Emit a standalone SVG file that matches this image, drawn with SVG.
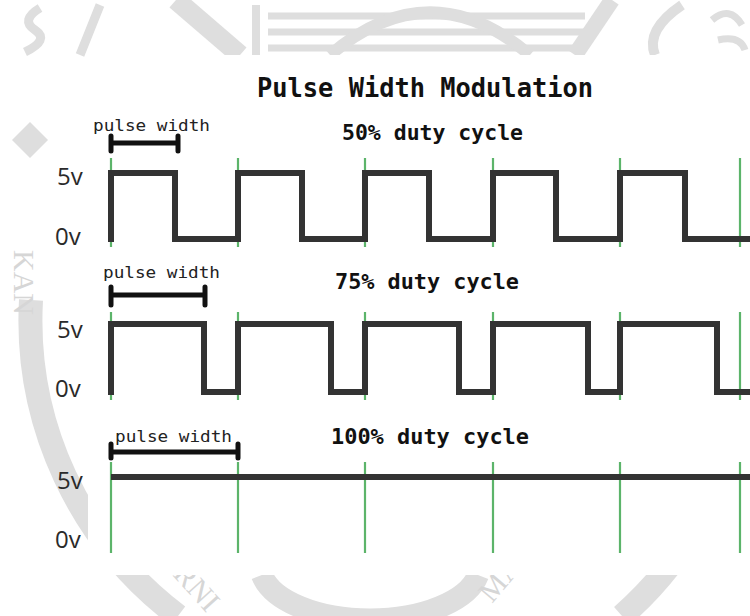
<svg xmlns="http://www.w3.org/2000/svg" width="750" height="616" viewBox="0 0 750 616">
<style>
.wm{fill:none;stroke:#dedede;stroke-linecap:butt}
.wmt{fill:#d6d6d6;font-family:"Liberation Serif",serif;font-size:30px}
.title{font-family:"DejaVu Sans Mono",monospace;font-weight:bold;fill:#111}
.duty{font-family:"DejaVu Sans Mono",monospace;font-weight:bold;font-size:22px;fill:#111}
.pw{font-family:"DejaVu Sans Mono",monospace;font-size:16px;fill:#222}
.volt{font-family:"Open Sans",sans-serif;font-size:24px;fill:#2a2a2a}
.grid{stroke:#5cb46a;stroke-width:2.2}
.wave{fill:none;stroke:#333;stroke-width:6;stroke-linejoin:miter;stroke-linecap:butt}
.bar{fill:none;stroke:#111;stroke-width:5;stroke-linecap:round}
</style>
<rect x="0" y="0" width="750" height="616" fill="#fff"/>
<g id="watermark">
  <path class="wm" d="M31,300 A370,370 0 0 0 178,616" stroke-width="24"/>
  <path class="wm" d="M700,520 A370,370 0 0 1 622,616" stroke-width="24"/>
  <path class="wm" d="M262,575 A110,55 0 0 0 478,575" stroke-width="22"/>
  <path class="wm" d="M176,0 L240,55" stroke-width="20"/>
  <path class="wm" d="M256,5 V55" stroke-width="8"/>
  <path class="wm" d="M268,16 H585 M268,32 H585 M268,48 H585" stroke-width="7"/>
  <path class="wm" d="M330,55 Q430,-30 530,55" stroke-width="12"/>
  <path class="wm" d="M612,0 L575,55" stroke-width="16"/>
  <path class="wm" d="M682,5 Q645,30 655,55" stroke-width="10"/>
  <path class="wm" d="M40,8 Q20,20 35,30 Q50,40 25,52" stroke-width="9"/>
  <path class="wm" d="M100,5 L80,55" stroke-width="9"/>
  <path class="wm" d="M712,20 Q730,5 742,25 M718,40 Q740,35 745,50" stroke-width="7"/>
  <polygon points="30,122 48,140 30,158 12,140" fill="#dedede"/>
  <text class="wmt" transform="translate(14,250) rotate(90)">KAN</text>
  <text class="wmt" transform="translate(172,575) rotate(48)" font-size="26">RNI</text>
  <text class="wmt" transform="translate(492,604) rotate(-50)" font-size="26">MAI</text>
</g>
<rect x="88" y="55" width="662" height="520" fill="#fff"/>
<g id="title"><text class="title" x="257" y="97" font-size="27" textLength="336" lengthAdjust="spacingAndGlyphs">Pulse Width Modulation</text></g>
<g id="grid">
  <path class="grid" d="M111,158V247 M238,158V247 M365,158V247 M493,158V247 M620,158V247 M740,158V247"/>
  <path class="grid" d="M111,312V400 M238,312V400 M365,312V400 M493,312V400 M620,312V400 M740,312V400"/>
  <path class="grid" d="M111,462V553 M238,462V553 M365,462V553 M493,462V553 M620,462V553 M740,462V553"/>
</g>
<g id="row-50">
  <text class="duty" x="342" y="140" textLength="181" lengthAdjust="spacingAndGlyphs">50% duty cycle</text>
  <text class="pw" x="93" y="131" textLength="117" lengthAdjust="spacingAndGlyphs">pulse width</text>
  <path class="bar" d="M111,143H178 M111,136V151 M178,136V151"/>
  <text class="volt" x="57" y="185">5v</text>
  <text class="volt" x="55" y="245">0v</text>
  <path class="wave" d="M111,242V173H175V239H238V173H302V239H365V173H429V239H493V173H556V239H620V173H685V239H750"/>
</g>
<g id="row-75">
  <text class="duty" x="335" y="289" textLength="184" lengthAdjust="spacingAndGlyphs">75% duty cycle</text>
  <text class="pw" x="103" y="278" textLength="117" lengthAdjust="spacingAndGlyphs">pulse width</text>
  <path class="bar" d="M111,295H205 M111,287V305 M205,287V305"/>
  <text class="volt" x="57" y="338">5v</text>
  <text class="volt" x="55" y="397">0v</text>
  <path class="wave" d="M111,395V324H204V392H238V324H331V392H365V324H459V392H493V324H588V392H620V324H717V392H750"/>
</g>
<g id="row-100">
  <text class="duty" x="331" y="444" textLength="198" lengthAdjust="spacingAndGlyphs">100% duty cycle</text>
  <text class="pw" x="115" y="442" textLength="117" lengthAdjust="spacingAndGlyphs">pulse width</text>
  <path class="bar" d="M111,452H238 M111,444V458 M238,444V458"/>
  <text class="volt" x="57" y="489">5v</text>
  <text class="volt" x="55" y="548">0v</text>
  <path class="wave" d="M111,477H750"/>
</g>
</svg>
